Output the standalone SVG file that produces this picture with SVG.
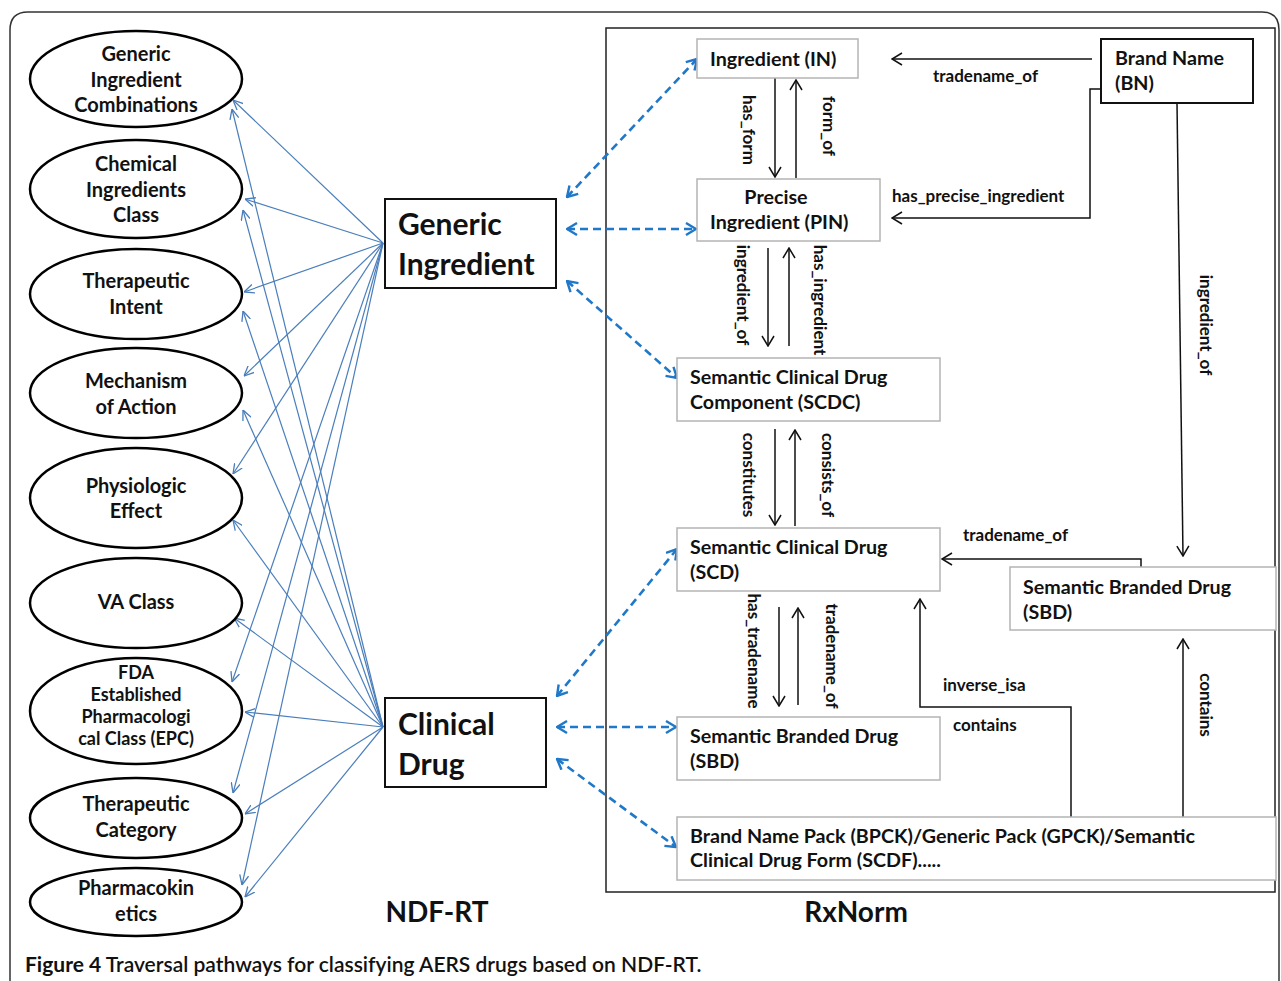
<svg xmlns="http://www.w3.org/2000/svg" width="1281" height="981" viewBox="0 0 1281 981">
<style>
text{font-family:Lato,"Liberation Sans",sans-serif;fill:#111}
.et{font-size:20px;font-weight:bold;text-anchor:middle}
.es{font-size:18px;font-weight:bold;text-anchor:middle}
.bt{font-size:19.7px;font-weight:bold}
.big{font-size:30px;font-weight:bold}
.lab{font-size:17px;font-weight:bold}
.ttl{font-size:28px;font-weight:bold;text-anchor:middle}
.ell{fill:#fff;stroke:#000;stroke-width:2.5}
.rbox{fill:#fff;stroke:#b4b4b4;stroke-width:1.5}
.kbox{fill:#fff;stroke:#111;stroke-width:2}
.bl{stroke:#4a7ebb;stroke-width:1.2;fill:none;marker-end:url(#ab)}
.dash{stroke:#1f78c8;stroke-width:2.6;fill:none;stroke-dasharray:8,5;marker-start:url(#ad);marker-end:url(#ad)}
.blk{stroke:#111;stroke-width:1.5;fill:none;marker-end:url(#ak)}
</style>
<defs>
<marker id="ab" viewBox="0 0 10 10" refX="10" refY="5" markerWidth="10" markerHeight="10" markerUnits="userSpaceOnUse" orient="auto"><path d="M0,0.5 L10,5 L0,9.5" fill="none" stroke="#4a7ebb" stroke-width="1.3"/></marker>
<marker id="ad" viewBox="0 0 12 14" refX="11" refY="7" markerWidth="12" markerHeight="14" markerUnits="userSpaceOnUse" orient="auto-start-reverse"><path d="M1,1 L11,7 L1,13" fill="none" stroke="#1f78c8" stroke-width="2.4"/></marker>
<marker id="ak" viewBox="0 0 12 14" refX="11" refY="7" markerWidth="12" markerHeight="14" markerUnits="userSpaceOnUse" orient="auto"><path d="M1,1 L11,7 L1,13" fill="none" stroke="#111" stroke-width="1.5"/></marker>
</defs>
<rect width="1281" height="981" fill="#fff"/>
<path d="M10,981 V30 Q10,12 28,12 H1262 Q1279,12 1279,30 V981" fill="none" stroke="#333" stroke-width="1.5"/>
<rect x="606" y="28" width="669" height="864" fill="none" stroke="#222" stroke-width="1.5"/>

<g id="connectors">
<line class="bl" x1="383" y1="243" x2="233" y2="100"/>
<line class="bl" x1="383" y1="243" x2="245" y2="199"/>
<line class="bl" x1="383" y1="243" x2="244" y2="292"/>
<line class="bl" x1="383" y1="243" x2="244" y2="376"/>
<line class="bl" x1="383" y1="243" x2="233" y2="474"/>
<line class="bl" x1="383" y1="243" x2="232" y2="682"/>
<line class="bl" x1="383" y1="243" x2="233" y2="793"/>
<line class="bl" x1="383" y1="243" x2="242" y2="885"/>
<line class="bl" x1="383" y1="727" x2="232" y2="109"/>
<line class="bl" x1="383" y1="727" x2="243" y2="210"/>
<line class="bl" x1="383" y1="727" x2="243" y2="311"/>
<line class="bl" x1="383" y1="727" x2="243" y2="410"/>
<line class="bl" x1="383" y1="727" x2="233" y2="520"/>
<line class="bl" x1="383" y1="727" x2="234" y2="618"/>
<line class="bl" x1="383" y1="727" x2="245" y2="712"/>
<line class="bl" x1="383" y1="727" x2="245" y2="814"/>
<line class="bl" x1="383" y1="727" x2="245" y2="897"/>

<line class="dash" x1="567" y1="197" x2="697" y2="59"/>
<line class="dash" x1="567" y1="229" x2="696" y2="229"/>
<line class="dash" x1="567" y1="281" x2="677" y2="378"/>
<line class="dash" x1="557" y1="696" x2="677" y2="549"/>
<line class="dash" x1="557" y1="727" x2="676" y2="727"/>
<line class="dash" x1="557" y1="759" x2="676" y2="847"/>

<line class="blk" x1="775" y1="78" x2="775" y2="177"/>
<line class="blk" x1="796" y1="178" x2="796" y2="80"/>
<line class="blk" x1="768" y1="248" x2="768" y2="346"/>
<line class="blk" x1="789" y1="346" x2="789" y2="248"/>
<line class="blk" x1="775" y1="429" x2="775" y2="525"/>
<line class="blk" x1="795" y1="526" x2="795" y2="430"/>
<line class="blk" x1="779" y1="607" x2="779" y2="706"/>
<line class="blk" x1="798" y1="705" x2="798" y2="608"/>
<line class="blk" x1="1092" y1="59" x2="892" y2="59"/>
<polyline class="blk" points="1101,89 1090,89 1090,218 892,218"/>
<line class="blk" x1="1177" y1="103" x2="1183" y2="556"/>
<polyline class="blk" points="1141,567 1141,559 942,559"/>
<polyline class="blk" points="1071,817 1071,707 920,707 920,599"/>
<line class="blk" x1="1183" y1="817" x2="1183" y2="639"/>

<text class="lab" transform="translate(743,130) rotate(90)" text-anchor="middle">has_form</text>
<text class="lab" transform="translate(823,126) rotate(90)" text-anchor="middle">form_of</text>
<text class="lab" transform="translate(737,295) rotate(90)" text-anchor="middle">ingredient_of</text>
<text class="lab" transform="translate(814,300) rotate(90)" text-anchor="middle">has_ingredient</text>
<text class="lab" transform="translate(743,475) rotate(90)" text-anchor="middle">constitutes</text>
<text class="lab" transform="translate(822,475) rotate(90)" text-anchor="middle">consists_of</text>
<text class="lab" transform="translate(748,651) rotate(90)" text-anchor="middle">has_tradename</text>
<text class="lab" transform="translate(826,656) rotate(90)" text-anchor="middle">tradename_of</text>
<text class="lab" transform="translate(1200,325) rotate(90)" text-anchor="middle">ingredient_of</text>
<text class="lab" transform="translate(1200,705) rotate(90)" text-anchor="middle">contains</text>
<text class="lab" x="933" y="82">tradename_of</text>
<text class="lab" x="892" y="202">has_precise_ingredient</text>
<text class="lab" x="963" y="541">tradename_of</text>
<text class="lab" x="943" y="691">inverse_isa</text>
<text class="lab" x="953" y="731">contains</text>
</g>

<g id="n-gic"><ellipse class="ell" cx="136" cy="79" rx="106" ry="48"/><text class="et" x="136" y="61">Generic</text><text class="et" x="136" y="87">Ingredient</text><text class="et" x="136" y="112">Combinations</text></g>
<g id="n-cic"><ellipse class="ell" cx="136" cy="189" rx="106" ry="49"/><text class="et" x="136" y="171">Chemical</text><text class="et" x="136" y="197">Ingredients</text><text class="et" x="136" y="222">Class</text></g>
<g id="n-ti"><ellipse class="ell" cx="136" cy="294" rx="106" ry="45"/><text class="et" x="136" y="288">Therapeutic</text><text class="et" x="136" y="314">Intent</text></g>
<g id="n-moa"><ellipse class="ell" cx="136" cy="393" rx="106" ry="45"/><text class="et" x="136" y="388">Mechanism</text><text class="et" x="136" y="414">of Action</text></g>
<g id="n-pe"><ellipse class="ell" cx="136" cy="498" rx="106" ry="50"/><text class="et" x="136" y="493">Physiologic</text><text class="et" x="136" y="518">Effect</text></g>
<g id="n-va"><ellipse class="ell" cx="136" cy="603" rx="106" ry="45"/><text class="et" x="136" y="609">VA Class</text></g>
<g id="n-epc"><ellipse class="ell" cx="136" cy="711" rx="106" ry="53"/><text class="es" x="136" y="679">FDA</text><text class="es" x="136" y="701">Established</text><text class="es" x="136" y="723">Pharmacologi</text><text class="es" x="136" y="745">cal Class (EPC)</text></g>
<g id="n-tc"><ellipse class="ell" cx="136" cy="818" rx="106" ry="40"/><text class="et" x="136" y="811">Therapeutic</text><text class="et" x="136" y="837">Category</text></g>
<g id="n-pk"><ellipse class="ell" cx="136" cy="902" rx="106" ry="34"/><text class="et" x="136" y="895">Pharmacokin</text><text class="et" x="136" y="921">etics</text></g>

<g id="n-gi"><rect class="kbox" x="385" y="199" width="171" height="89"/><text class="big" x="398" y="235">Generic</text><text class="big" x="398" y="275">Ingredient</text></g>
<g id="n-cd"><rect class="kbox" x="385" y="698" width="161" height="89"/><text class="big" x="398" y="735">Clinical</text><text class="big" x="398" y="775">Drug</text></g>

<g id="n-in"><rect class="rbox" x="697" y="39" width="161" height="39"/><text class="bt" x="710" y="66">Ingredient (IN)</text></g>
<g id="n-pin"><rect class="rbox" x="697" y="179" width="183" height="62"/><text class="bt" x="776" y="204" text-anchor="middle">Precise</text><text class="bt" x="710" y="229">Ingredient (PIN)</text></g>
<g id="n-scdc"><rect class="rbox" x="677" y="358" width="263" height="63"/><text class="bt" x="690" y="384">Semantic Clinical Drug</text><text class="bt" x="690" y="409">Component (SCDC)</text></g>
<g id="n-scd"><rect class="rbox" x="677" y="528" width="263" height="63"/><text class="bt" x="690" y="554">Semantic Clinical Drug</text><text class="bt" x="690" y="579">(SCD)</text></g>
<g id="n-sbd"><rect class="rbox" x="677" y="717" width="263" height="63"/><text class="bt" x="690" y="743">Semantic Branded Drug</text><text class="bt" x="690" y="768">(SBD)</text></g>
<g id="n-bpck"><rect class="rbox" x="677" y="817" width="599" height="63"/><text class="bt" x="690" y="843">Brand Name Pack (BPCK)/Generic Pack (GPCK)/Semantic</text><text class="bt" x="690" y="867">Clinical Drug Form (SCDF).....</text></g>
<g id="n-bn"><rect class="kbox" x="1101" y="39" width="152" height="64" stroke="#333"/><text class="bt" x="1115" y="65">Brand Name</text><text class="bt" x="1115" y="90">(BN)</text></g>
<g id="n-sbd2"><rect class="rbox" x="1010" y="567" width="266" height="63"/><text class="bt" x="1023" y="594">Semantic Branded Drug</text><text class="bt" x="1023" y="619">(SBD)</text></g>

<text class="ttl" x="437" y="922">NDF-RT</text>
<text class="ttl" x="856" y="922">RxNorm</text>
<text x="25" y="972" style="font-size:21px"><tspan font-weight="bold">Figure 4</tspan><tspan font-weight="600"> Traversal pathways for classifying AERS drugs based on NDF-RT.</tspan></text>
</svg>
